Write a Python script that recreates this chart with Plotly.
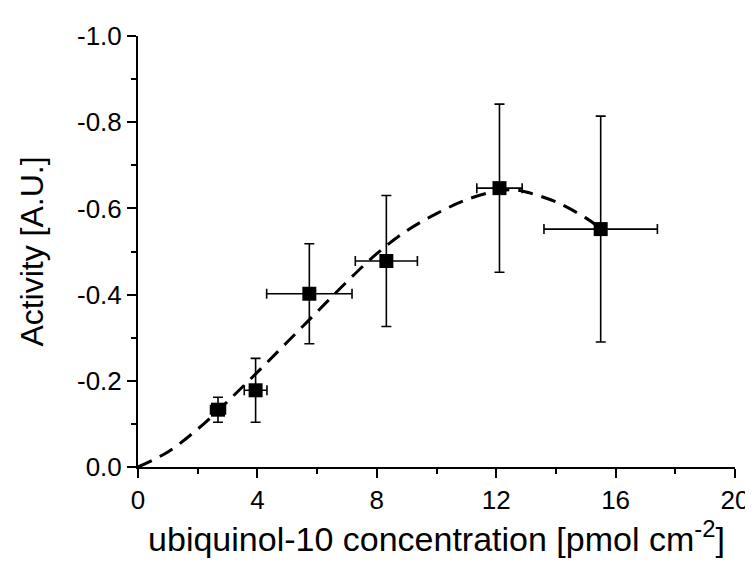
import plotly.graph_objects as go

# Data points
conc = [2.68, 3.94, 5.74, 8.32, 12.11, 15.50]
conc_err = [0.25, 0.38, 1.43, 1.04, 0.76, 1.90]
activity = [-0.133, -0.178, -0.402, -0.478, -0.647, -0.552]
activity_err = [0.029, 0.074, 0.116, 0.152, 0.195, 0.262]

# Fitted curve
fit_x = [0, 1, 2, 3, 4, 5, 6, 7, 8, 9, 10, 11, 12, 12.6, 13, 14, 15, 15.5]
fit_y = [0, -0.035, -0.088, -0.152, -0.22, -0.29, -0.36, -0.43, -0.495,
         -0.548, -0.588, -0.62, -0.64, -0.643, -0.638, -0.615, -0.578, -0.553]

y_tickvals = [0, -0.2, -0.4, -0.6, -0.8, -1.0]
y_ticktext = ["0.0", "-0.2", "-0.4", "-0.6", "-0.8", "-1.0"]
x_tickvals = [0, 4, 8, 12, 16, 20]

FONT = "Liberation Sans, Arial, sans-serif"

fig = go.Figure()
fig.add_trace(go.Scatter(
    x=fit_x, y=fit_y, mode="lines",
    line=dict(color="black", width=3, dash="15px,9px", shape="spline"),
    hoverinfo="skip", showlegend=False,
))
fig.add_trace(go.Scatter(
    x=conc, y=activity, mode="markers",
    marker=dict(symbol="square", size=14, color="black"),
    error_x=dict(type="data", array=conc_err, color="black", thickness=1.6, width=5),
    error_y=dict(type="data", array=activity_err, color="black", thickness=1.6, width=5),
    showlegend=False, cliponaxis=False,
))

fig.update_layout(
    width=745, height=555,
    margin=dict(l=130, r=18, t=28, b=96, autoexpand=False),
    paper_bgcolor="white", plot_bgcolor="white",
    font=dict(family=FONT, color="black"),
)
fig.update_xaxes(
    range=[0, 20], tickvals=x_tickvals, automargin=False,
    showgrid=False, zeroline=False,
    showline=True, linecolor="black", linewidth=2,
    ticks="outside", ticklen=9, tickwidth=2, tickcolor="black",
    minor=dict(ticks="outside", ticklen=5, tickwidth=2, tickcolor="black", dtick=2, showgrid=False),
    tickfont=dict(size=26, family=FONT),
    title=dict(text="ubiquinol-10 concentration [pmol cm<sup>-2</sup>]",
               font=dict(size=34, family=FONT), standoff=6),
)
fig.update_yaxes(
    range=[0, -1.0], tickvals=y_tickvals, ticktext=y_ticktext, automargin=False,
    showgrid=False, zeroline=False,
    showline=True, linecolor="black", linewidth=2,
    ticks="outside", ticklen=9, tickwidth=2, tickcolor="black",
    minor=dict(ticks="outside", ticklen=5, tickwidth=2, tickcolor="black", dtick=0.1, showgrid=False),
    tickfont=dict(size=26, family=FONT),
    title=dict(text="Activity [A.U.]", font=dict(size=32, family=FONT), standoff=24),
)

fig.write_html("out.html")
